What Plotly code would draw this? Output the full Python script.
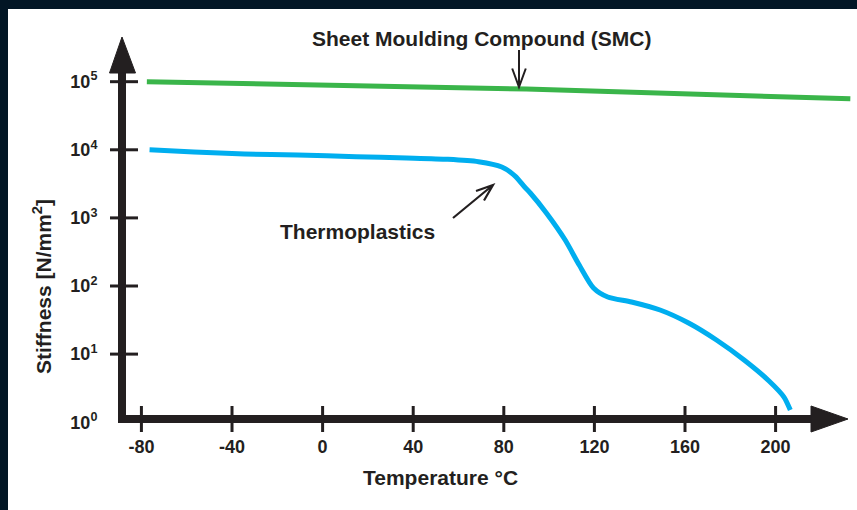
import math
import plotly.graph_objects as go

# ---------------- data ----------------
thermo_temp = [-76.4, -56.8, -34.5, -11.0, 14.8, 37.1, 55.3, 68.8, 79.1, 85.0,
               89.2, 91.7, 98.8, 107.1, 113.3, 119.6, 125.9, 136.4, 149.0,
               161.6, 173.9, 186.1, 197.1, 203.7, 206.5]
thermo_stiff = [10000, 9290, 8670, 8400, 7930, 7590, 7250, 6680, 5580, 4120,
                2840, 2320, 1180, 473, 203, 93.5, 68.9, 58.2, 44.4,
                28.6, 16.1, 8.19, 4.03, 2.34, 1.51]
smc_temp = [-77.6, 90.0, 233.0]
smc_stiff = [100000, 78000, 56000]

x_ticks = [-80, -40, 0, 40, 80, 120, 160, 200]
x_tick_labels = ["<b>" + str(v) + "</b>" for v in x_ticks]
y_ticks = [1, 10, 100, 1000, 10000, 100000]
y_tick_labels = ["<b>10<sup>0</sup></b>", "<b>10<sup>1</sup></b>", "<b>10<sup>2</sup></b>",
                 "<b>10<sup>3</sup></b>", "<b>10<sup>4</sup></b>", "<b>10<sup>5</sup></b>"]

title_smc = "Sheet Moulding Compound (SMC)"
label_thermo = "Thermoplastics"
x_title = "Temperature °C"
y_title = "Stiffness [N/mm<sup>2</sup>]"

# ---------------- layout geometry ----------------
W, H = 857, 510
ML, MR, MT, MB = 122, 0, 30, 85
PW, PH = W - ML - MR, H - MT - MB
XR = [-88.57, 235.94]
YR = [-0.041, 5.759]

INK = "#231f20"
NAVY = "#021625"
BLUE = "#00aeef"
GREEN = "#3ab54a"
FONT = "Liberation Sans, Arial, sans-serif"


def fx(px):
    return (px - ML) / PW


def fy(py):
    return (H - MB - py) / PH


def dx(t):
    return (t - XR[0]) / (XR[1] - XR[0])


def dy(v):
    return (math.log10(v) - YR[0]) / (YR[1] - YR[0])


fig = go.Figure()
fig.add_trace(go.Scatter(x=smc_temp, y=smc_stiff, mode="lines",
                         line=dict(color=GREEN, width=5), hoverinfo="skip",
                         showlegend=False))
fig.add_trace(go.Scatter(x=thermo_temp, y=thermo_stiff, mode="lines",
                         line=dict(color=BLUE, width=5, shape="spline",
                                   smoothing=0.7),
                         hoverinfo="skip", showlegend=False))

shapes = []
# dark frame (top and left)
shapes.append(dict(type="rect", xref="paper", yref="paper", x0=fx(0), x1=fx(W),
                   y0=fy(9), y1=fy(0), fillcolor=NAVY, line=dict(width=0)))
shapes.append(dict(type="rect", xref="paper", yref="paper", x0=fx(0), x1=fx(8),
                   y0=fy(H), y1=fy(0), fillcolor=NAVY, line=dict(width=0)))
# axis lines
shapes.append(dict(type="line", xref="paper", yref="paper", x0=fx(122), x1=fx(122),
                   y0=fy(423), y1=fy(70), line=dict(color=INK, width=8)))
shapes.append(dict(type="line", xref="paper", yref="paper", x0=fx(118), x1=fx(815),
                   y0=fy(419), y1=fy(419), line=dict(color=INK, width=8)))
# arrow heads of axes
shapes.append(dict(type="path", xref="paper", yref="paper",
                   path=f"M {fx(122)},{fy(37)} L {fx(135.5)},{fy(73)} L {fx(109.5)},{fy(73)} Z",
                   fillcolor=INK, line=dict(color=INK, width=1)))
shapes.append(dict(type="path", xref="paper", yref="paper",
                   path=f"M {fx(848)},{fy(419)} L {fx(811)},{fy(432)} L {fx(811)},{fy(406)} Z",
                   fillcolor=INK, line=dict(color=INK, width=1)))
# tick marks crossing the axes
for v in y_ticks[1:]:
    shapes.append(dict(type="line", xref="paper", yref="paper", x0=fx(110), x1=fx(138),
                       y0=dy(v), y1=dy(v), line=dict(color=INK, width=3)))
for t in x_ticks:
    shapes.append(dict(type="line", xref="paper", yref="paper", x0=dx(t), x1=dx(t),
                       y0=fy(406), y1=fy(432), line=dict(color=INK, width=3)))
# pointer arrows
shapes.append(dict(type="path", xref="paper", yref="paper",
                   path=(f"M {fx(519)},{fy(50)} L {fx(519)},{fy(87)} "
                         f"M {fx(512.2)},{fy(68.5)} L {fx(519)},{fy(87)} L {fx(525.8)},{fy(68.5)}"),
                   line=dict(color=INK, width=2)))
shapes.append(dict(type="path", xref="paper", yref="paper",
                   path=(f"M {fx(453)},{fy(218)} L {fx(493)},{fy(185)} "
                         f"M {fx(476)},{fy(191)} L {fx(493)},{fy(185)} L {fx(484)},{fy(200.5)}"),
                   line=dict(color=INK, width=2.2)))

annotations = [
    dict(text=title_smc, x=fx(481), y=fy(38), xref="paper", yref="paper",
         showarrow=False, xanchor="center", yanchor="middle",
         font=dict(family=FONT, size=21, color=INK, weight="bold")),
    dict(text=label_thermo, x=fx(357.5), y=fy(231), xref="paper", yref="paper",
         showarrow=False, xanchor="center", yanchor="middle",
         font=dict(family=FONT, size=21, color=INK, weight="bold")),
    dict(text=x_title, x=fx(440), y=fy(477), xref="paper", yref="paper",
         showarrow=False, xanchor="center", yanchor="middle",
         font=dict(family=FONT, size=21, color=INK, weight="bold")),
    dict(text=y_title, x=fx(42), y=fy(287), xref="paper", yref="paper",
         showarrow=False, xanchor="center", yanchor="middle", textangle=-90,
         font=dict(family=FONT, size=21, color=INK, weight="bold")),
]

fig.update_layout(
    width=W, height=H,
    margin=dict(l=ML, r=MR, t=MT, b=MB, pad=0),
    paper_bgcolor="white", plot_bgcolor="white",
    shapes=shapes, annotations=annotations,
    showlegend=False,
    xaxis=dict(range=XR, tickmode="array", tickvals=x_ticks, ticktext=x_tick_labels,
               ticks="outside", ticklen=5, tickcolor="rgba(0,0,0,0)",
               showgrid=False, zeroline=False, showline=False,
               tickfont=dict(family=FONT, size=18, color=INK)),
    yaxis=dict(type="log", range=YR, tickmode="array", tickvals=y_ticks,
               ticktext=y_tick_labels, ticks="outside", ticklen=20,
               tickcolor="rgba(0,0,0,0)", showgrid=False, zeroline=False,
               showline=False,
               tickfont=dict(family=FONT, size=18, color=INK)),
)

fig.write_html(
    "out.html",
    config={"displayModeBar": False},
    post_script=("document.documentElement.style.margin='0';"
                 "document.body.style.margin='0';document.body.style.padding='0';"
                 "document.body.style.overflow='hidden';"),
)
